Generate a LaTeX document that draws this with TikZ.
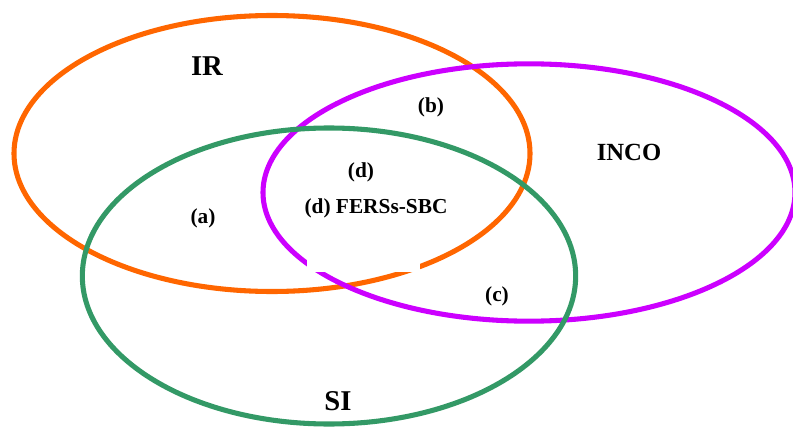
\documentclass[tikz,border=0pt]{standalone}
\usepackage{fontspec}
\setmainfont{Liberation Serif}
\usepackage{tikz}
\usetikzlibrary{shapes.geometric}

\definecolor{irorange}{HTML}{FF6600}
\definecolor{incomagenta}{HTML}{CC00FF}
\definecolor{sigreen}{HTML}{339966}

\begin{document}
\begin{tikzpicture}
             %% setup
             [
                 x=0.75pt, y=-0.75pt,
                 setnode/.style={ellipse, draw, line width=3.8pt, inner sep=0pt},
                 biglabel/.style={font=\bfseries\fontsize{21.5}{24}\selectfont},
                 midlabel/.style={font=\bfseries\fontsize{18.5}{21}\selectfont},
                 smalllabel/.style={font=\bfseries\fontsize{16}{19}\selectfont},
             ]
                 \useasboundingbox (0,0) rectangle (793,428);

                 %% Sets
                 \node [setnode, draw=irorange, minimum width=387pt, minimum height=207pt] (ir) at (272,153.5) {};
                 \node [setnode, draw=incomagenta, minimum width=399pt, minimum height=193pt] (inco) at (529,192.5) {};
                 \node [setnode, draw=sigreen, minimum width=370pt, minimum height=222pt] (si) at (329,276) {};

                 %% blank patch over the crossing
                 \fill [white] (307,240) rectangle (420,272);

                 %% Labels
                 \node [biglabel] (irtext) at (207,66) {IR};
                 \node [midlabel] (incotext) at (629,152) {INCO};
                 \node [biglabel] (sitext) at (338,401) {SI};
                 \node [smalllabel] (atext) at (203,218) {(a)};
                 \node [smalllabel] (btext) at (431,107) {(b)};
                 \node [smalllabel] (ctext) at (497,296) {(c)};
                 \node [smalllabel] (dtext) at (361,172) {(d)};
                 \node [smalllabel] (ferstext) at (376,208) {(d) FERSs-SBC};

\end{tikzpicture}
\end{document}
